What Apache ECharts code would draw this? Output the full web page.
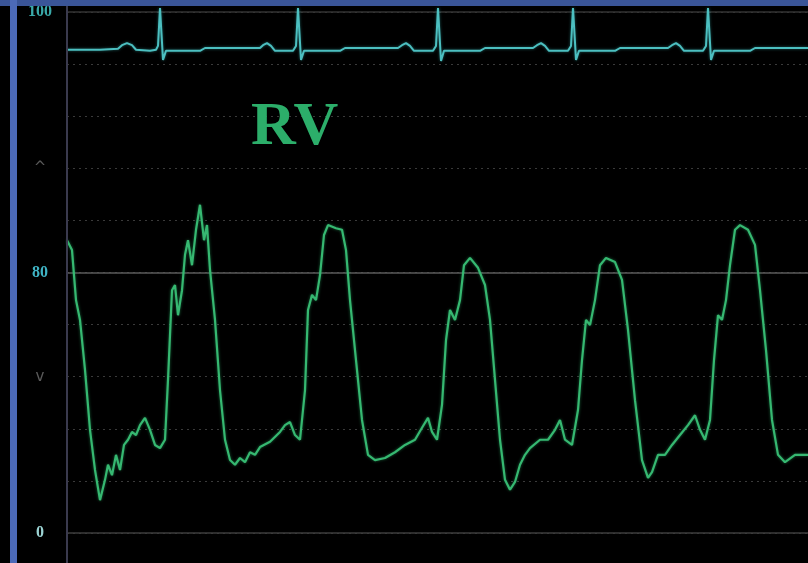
<!DOCTYPE html>
<html><head><meta charset="utf-8">
<script src="https://cdn.jsdelivr.net/npm/echarts@6/dist/echarts.min.js"></script>
<style>html,body{margin:0;padding:0;background:#000;}#c{width:808px;height:563px;}</style>
</head><body><div id="c"></div>
<script>
// RV pressure trace (time in px-units from the axis, pressure in mmHg-scale 0..100)
const rvTime = [0,5,9,13,18,23,28,33,38,41,45,49,53,57,61,65,69,73,78,83,88,93,98,101,105,108,111,115,118,121,125,129,133,137,140,143,148,153,158,163,168,173,178,183,188,193,203,213,218,223,228,233,238,241,245,249,253,257,261,269,275,279,283,289,295,301,308,318,328,338,348,355,361,365,370,375,379,383,388,393,397,403,411,418,423,428,433,438,443,448,453,458,463,473,481,488,493,498,505,511,515,519,523,528,533,539,548,555,561,568,575,581,585,591,598,605,613,621,628,633,638,643,647,651,655,659,663,668,673,681,688,693,699,705,711,718,728,741];
const rvPressure = [56.2,54.3,44.7,40.9,31.3,19.8,12.1,6.3,10.2,13.1,11.1,15.0,12.1,16.9,17.9,19.4,18.8,20.7,22.1,19.8,16.9,16.3,17.9,29.4,46.6,47.6,41.8,46.6,53.4,56.2,51.4,58.2,63.0,56.2,59.1,50.5,40.9,27.4,17.9,14.0,13.1,14.4,13.6,15.5,15.0,16.5,17.5,19.4,20.7,21.3,18.8,17.9,27.4,42.8,45.7,44.7,49.5,57.2,59.1,58.5,58.2,54.3,44.7,33.2,21.7,15.0,14.0,14.4,15.5,16.9,17.9,20.2,22.1,19.4,17.9,24.6,37.0,42.8,40.9,44.7,51.4,52.8,50.9,47.6,40.9,29.4,17.9,10.2,8.3,9.8,13.1,15.0,16.3,17.9,17.9,19.8,21.7,17.9,16.9,23.6,33.2,40.9,39.9,44.7,51.4,52.8,52.0,48.6,39.0,25.5,14.0,10.6,11.7,15.0,15.0,16.9,18.8,20.7,22.6,19.8,17.9,21.7,33.2,41.8,40.9,44.7,51.4,58.2,59.1,58.2,55.3,46.6,35.1,21.7,15.0,13.6,15.0,15.0];

// ECG trace (same time units, mV)
const ecgTime = [0,33,51,55,60,65,69,83,89,91,93,96,99,133,138,193,196,200,204,208,226,229,231,234,237,273,278,331,335,339,343,347,366,369,371,374,377,413,418,466,470,474,478,482,501,504,506,509,512,548,553,601,605,609,613,617,636,639,641,644,647,683,688,741];
const ecgVolt = [0,0,0.03,0.13,0.19,0.13,0,-0.03,0,0.11,1.19,-0.29,-0.03,-0.03,0.05,0.05,0.13,0.19,0.11,-0.03,-0.03,0.11,1.19,-0.29,-0.03,-0.03,0.05,0.05,0.13,0.19,0.11,-0.03,-0.03,0.11,1.19,-0.32,-0.03,-0.03,0.05,0.05,0.13,0.19,0.11,-0.03,-0.03,0.11,1.19,-0.29,-0.03,-0.03,0.05,0.05,0.13,0.19,0.11,-0.03,-0.03,0.11,1.19,-0.29,-0.03,-0.03,0.05,0.05];

// Axis tick labels
const tickValues = [0, 30, 50, 70, 100];
const tickLabels = ['0', 'v', '80', '^', '100'];
const tickStyles = ['z', 'c', 'm', 'c', 't'];
const titleText = 'RV';

const chart = echarts.init(document.getElementById('c'));
const rv = rvTime.map((t, i) => [t, rvPressure[i]]);
const ecg = ecgTime.map((t, i) => [t, ecgVolt[i]]);

chart.setOption({
  backgroundColor: '#000',
  animation: false,
  title: {
    text: titleText, left: 246, top: 92,
    textStyle: { fontFamily: 'Liberation Serif', fontWeight: 'bold', fontSize: 62, color: '#2cae6a' }
  },
  graphic: [
    { type: 'rect', shape: { x: 0, y: 0, width: 808, height: 6 }, style: { fill: '#3a5598' }, z: 100 },
    { type: 'rect', shape: { x: 10, y: 0, width: 7, height: 563 }, style: { fill: '#4c6ab8' }, z: 100 },
    { type: 'line', shape: { x1: 67, y1: 6, x2: 67, y2: 563 }, style: { stroke: '#3a3a4e', lineWidth: 2 }, z: 50 }
  ],
  grid: [
    { left: 67, right: 0, top: 12, bottom: 30 },
    { left: 67, right: 0, top: 6, height: 56 }
  ],
  xAxis: [
    { type: 'value', gridIndex: 0, min: 0, max: 741, show: false },
    { type: 'value', gridIndex: 1, min: 0, max: 741, show: false }
  ],
  yAxis: [
    {
      type: 'value', gridIndex: 0, min: 0, max: 100, interval: 10,
      axisLine: { show: false }, axisTick: { show: false },
      splitLine: { show: true, lineStyle: { color: '#3a3a3a', type: [2, 4], width: 1 } },
      axisLabel: {
        show: true, margin: 27, align: 'center', showMinLabel: true, showMaxLabel: true,
        formatter: v => { const i = tickValues.indexOf(v); return i < 0 ? '' : '{' + tickStyles[i] + '|' + tickLabels[i] + '}'; },
        rich: {
          z: { color: '#9cd4d4', fontFamily: 'Liberation Serif', fontWeight: 'bold', fontSize: 16 },
          m: { color: '#3fb3c4', fontFamily: 'Liberation Serif', fontWeight: 'bold', fontSize: 16 },
          t: { color: '#3aa9a9', fontFamily: 'Liberation Serif', fontWeight: 'bold', fontSize: 16 },
          c: { color: '#5a5a5a', fontFamily: 'DejaVu Sans', fontSize: 15 }
        }
      }
    },
    { type: 'value', gridIndex: 1, min: -0.35, max: 1.25, show: false }
  ],
  series: [
    {
      type: 'line', xAxisIndex: 0, yAxisIndex: 0, data: rv, symbol: 'none',
      lineStyle: { color: '#36b871', width: 2.2, shadowColor: 'rgba(40,170,100,0.6)', shadowBlur: 3 },
      markLine: {
        silent: true, symbol: 'none', label: { show: false },
        data: [
          { yAxis: 0, lineStyle: { color: '#3c3c3c', type: 'solid', width: 1.5 } },
          { yAxis: 50, lineStyle: { color: '#5a5a5a', type: 'solid', width: 1.5 } },
          { yAxis: 100, lineStyle: { color: '#333', type: 'solid', width: 1.5 } }
        ]
      },
      z: 5
    },
    {
      type: 'line', xAxisIndex: 1, yAxisIndex: 1, data: ecg, symbol: 'none',
      lineStyle: { color: '#4cbfc0', width: 2, shadowColor: 'rgba(60,190,190,0.5)', shadowBlur: 3 },
      z: 6
    }
  ]
});
</script></body></html>
